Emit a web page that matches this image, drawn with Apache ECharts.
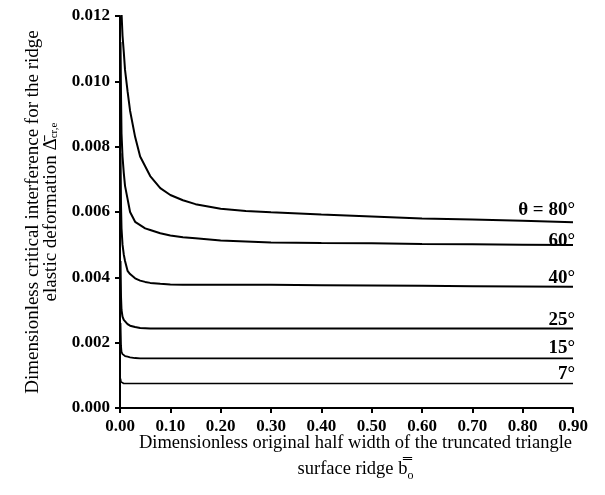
<!DOCTYPE html>
<html>
<head>
<meta charset="utf-8">
<script src="https://cdn.jsdelivr.net/npm/echarts@6/dist/echarts.min.js"></script>
<style>
  html, body { margin: 0; padding: 0; background: #fff; }
  #chart { width: 605px; height: 495px; }
</style>
</head>
<body>
<div id="chart"></div>
<script>
  // x positions shared by all curves (dimensionless half width b0)
  var bx = [0.001, 0.002, 0.003, 0.005, 0.0075, 0.01, 0.015, 0.02, 0.03, 0.04, 0.05, 0.06, 0.08, 0.1, 0.125, 0.15, 0.2, 0.25, 0.3, 0.4, 0.5, 0.6, 0.7, 0.8, 0.9];

  // critical interference for each ridge angle
  var th80 = [0.0135, 0.0125, 0.0121, 0.0114, 0.0109, 0.01035, 0.0097, 0.0091, 0.0083, 0.0077, 0.0074, 0.0071, 0.00673, 0.00652, 0.00636, 0.00624, 0.0061, 0.00603, 0.00599, 0.00592, 0.00586, 0.0058, 0.00577, 0.00573, 0.00569];
  var th60 = [0.0112, 0.0096, 0.0084, 0.0077, 0.0072, 0.0068, 0.0064, 0.0060, 0.0057, 0.0056, 0.0055, 0.00545, 0.00535, 0.00528, 0.00523, 0.0052, 0.00513, 0.0051, 0.00507, 0.00505, 0.00504, 0.00502, 0.00501, 0.005, 0.00499];
  var th40 = [0.0078, 0.0062, 0.0055, 0.0050, 0.0047, 0.0045, 0.0042, 0.0041, 0.00397, 0.0039, 0.00386, 0.00383, 0.0038, 0.00378, 0.00377, 0.00377, 0.00377, 0.00377, 0.00377, 0.00376, 0.00375, 0.00374, 0.00373, 0.00372, 0.00371];
  var th25 = [0.0045, 0.0034, 0.0030, 0.0028, 0.0027, 0.00265, 0.00257, 0.00252, 0.00248, 0.00245, 0.00244, 0.00243, 0.00243, 0.00243, 0.00243, 0.00243, 0.00243, 0.00243, 0.00243, 0.00243, 0.00243, 0.00243, 0.00243, 0.00243, 0.00243];
  var th15 = [0.0026, 0.0019, 0.00172, 0.00165, 0.00161, 0.00159, 0.00157, 0.00155, 0.00153, 0.00152, 0.00152, 0.00152, 0.00152, 0.00152, 0.00152, 0.00152, 0.00152, 0.00152, 0.00152, 0.00152, 0.00152, 0.00152, 0.00152, 0.00152, 0.00152];
  var th7 = [0.0009, 0.0008, 0.00077, 0.00075, 0.00075, 0.00075, 0.00075, 0.00075, 0.00075, 0.00075, 0.00075, 0.00075, 0.00075, 0.00075, 0.00075, 0.00075, 0.00075, 0.00075, 0.00075, 0.00075, 0.00075, 0.00075, 0.00075, 0.00075, 0.00075];

  var names = ['θ = 80°', '60°', '40°', '25°', '15°', '7°'];

  var serif = '"Liberation Serif", "Times New Roman", serif';

  function pairs(ys) {
    return bx.map(function (x, i) { return [x, ys[i]]; });
  }

  // dy: label shift against the end of its line, w: line width
  function curve(name, ys, dy, w) {
    return {
      name: name,
      type: 'line',
      data: pairs(ys),
      smooth: false,
      showSymbol: false,
      lineStyle: { color: '#000', width: w },
      endLabel: {
        show: true,
        formatter: name,
        align: 'right',
        verticalAlign: 'bottom',
        offset: [-6, dy],
        fontFamily: serif,
        fontSize: 19,
        fontWeight: 'bold',
        color: '#000'
      }
    };
  }

  const myChart = echarts.init(document.getElementById('chart'));
  var option = {
    animation: false,
    backgroundColor: '#fff',
    grid: { left: 120, right: 32, top: 16, bottom: 87 },
    xAxis: {
      type: 'value',
      min: 0,
      max: 0.9,
      interval: 0.1,
      name: 'Dimensionless original half width of the truncated triangle\n{a|surface ridge b̿}{s|o}',
      nameLocation: 'middle',
      nameGap: 22,
      nameMoveOverlap: false,
      nameTextStyle: {
        fontFamily: serif,
        fontSize: 18.5,
        color: '#000',
        lineHeight: 26,
        padding: [0, 0, 0, 18],
        rich: {
          a: { fontFamily: serif, fontSize: 18.5, color: '#000' },
          s: { fontFamily: serif, fontSize: 12, color: '#000', verticalAlign: 'bottom', padding: [7, 0, 0, 0] }
        }
      },
      axisLine: { lineStyle: { color: '#000', width: 2 } },
      axisTick: { length: 5, lineStyle: { color: '#000', width: 2 } },
      axisLabel: {
        margin: 10,
        fontFamily: serif,
        fontSize: 17,
        fontWeight: 'bold',
        color: '#000',
        formatter: function (v) { return v.toFixed(2); }
      },
      splitLine: { show: false }
    },
    yAxis: {
      type: 'value',
      min: 0,
      max: 0.012,
      interval: 0.002,
      name: 'Dimensionless critical interference for the ridge\n{a|elastic deformation Δ̄}{s|cr,e}',
      nameLocation: 'middle',
      nameGap: 60,
      nameMoveOverlap: false,
      nameTextStyle: {
        fontFamily: serif,
        fontSize: 19,
        color: '#000',
        lineHeight: 18,
        rich: {
          a: { fontFamily: serif, fontSize: 19, color: '#000' },
          s: { fontFamily: serif, fontSize: 11, color: '#000', verticalAlign: 'bottom', padding: [6, 0, 0, 0] }
        }
      },
      axisLine: { show: true, lineStyle: { color: '#000', width: 2 } },
      axisTick: { show: true, length: 5, lineStyle: { color: '#000', width: 2 } },
      axisLabel: {
        margin: 10,
        fontFamily: serif,
        fontSize: 17,
        fontWeight: 'bold',
        color: '#000',
        formatter: function (v) { return v.toFixed(3); }
      },
      splitLine: { show: false }
    },
    series: [
      curve(names[0], th80, -3, 2),
      curve(names[1], th60, 6, 2),
      curve(names[2], th40, 1, 2),
      curve(names[3], th25, 1, 2),
      curve(names[4], th15, -1, 1.8),
      curve(names[5], th7, 0, 1.6)
    ]
  };
  myChart.setOption(option);
</script>
</body>
</html>
